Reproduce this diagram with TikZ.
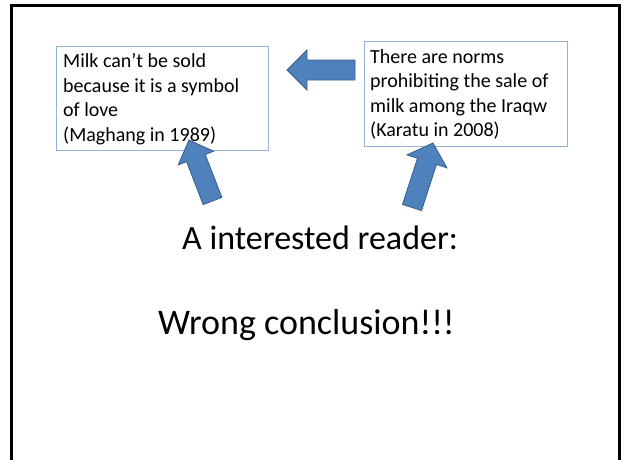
\documentclass[tikz,border=0pt]{standalone}
\usepackage{fontspec}
\setmainfont{Carlito}
\definecolor{arrowfill}{HTML}{4F81BD}
\definecolor{arrowline}{HTML}{385D8A}
\definecolor{boxline}{HTML}{95B3D7}
\tikzset{
  blockarrow/.style={fill=arrowfill, draw=arrowline, line width=0.8pt, line join=miter},
  citebox/.style={draw=boxline, line width=0.9pt, rectangle, inner sep=0pt},
  boxtext/.style={anchor=north west, inner sep=0pt, align=left, font=\fontsize{20pt}{24.4pt}\selectfont},
}
\begin{document}
\begin{tikzpicture}[x=1pt, y=-1pt]
\useasboundingbox (0,0) rectangle (621,459);
\fill[white] (0,0) rectangle (621,459);
% slide frame
\draw[line width=3pt] (11.5,480) -- (11.5,5) -- (619.5,5) -- (619.5,480);
% boxes
\node[citebox, minimum width=212pt, minimum height=104pt] (lbox) at (162,98) {};
\node[citebox, minimum width=203pt, minimum height=105pt] (rbox) at (465.5,93.5) {};
\node[boxtext] (ltext) at (63,53.5) {Milk can’t be sold\\because it is a symbol\\of love\\(Maghang in 1989)};
\node[boxtext] (rtext) at (370,49.3) {There are norms\\prohibiting the sale of\\milk among the Iraqw\\(Karatu in 2008)};
% left-pointing block arrow
\begin{scope}[shift={(355,70)}, rotate=180]
  \draw[blockarrow] (0,-10) -- (48,-10) -- (48,-20) -- (68,0) -- (48,20) -- (48,10) -- (0,10) -- cycle;
\end{scope}
% up-left block arrow
\begin{scope}[shift={(212.5,201)}, rotate=111.1]
  \draw[blockarrow] (0,-10) -- (46,-10) -- (46,-19) -- (65.4,0) -- (46,19) -- (46,10) -- (0,10) -- cycle;
\end{scope}
% up-right block arrow
\begin{scope}[shift={(412,207.5)}, rotate=72]
  \draw[blockarrow] (0,-10) -- (48.5,-10) -- (48.5,-21) -- (67.8,0) -- (48.5,21) -- (48.5,10) -- (0,10) -- cycle;
\end{scope}
% texts
\node[anchor=base west, inner sep=0pt, font=\fontsize{34pt}{40pt}\selectfont] (reader) at (182,249) {A interested reader:};
\node[anchor=base west, inner sep=0pt, font=\fontsize{36pt}{43pt}\selectfont] (wrong) at (158,334) {Wrong conclusion!!!};
\end{tikzpicture}
\end{document}
